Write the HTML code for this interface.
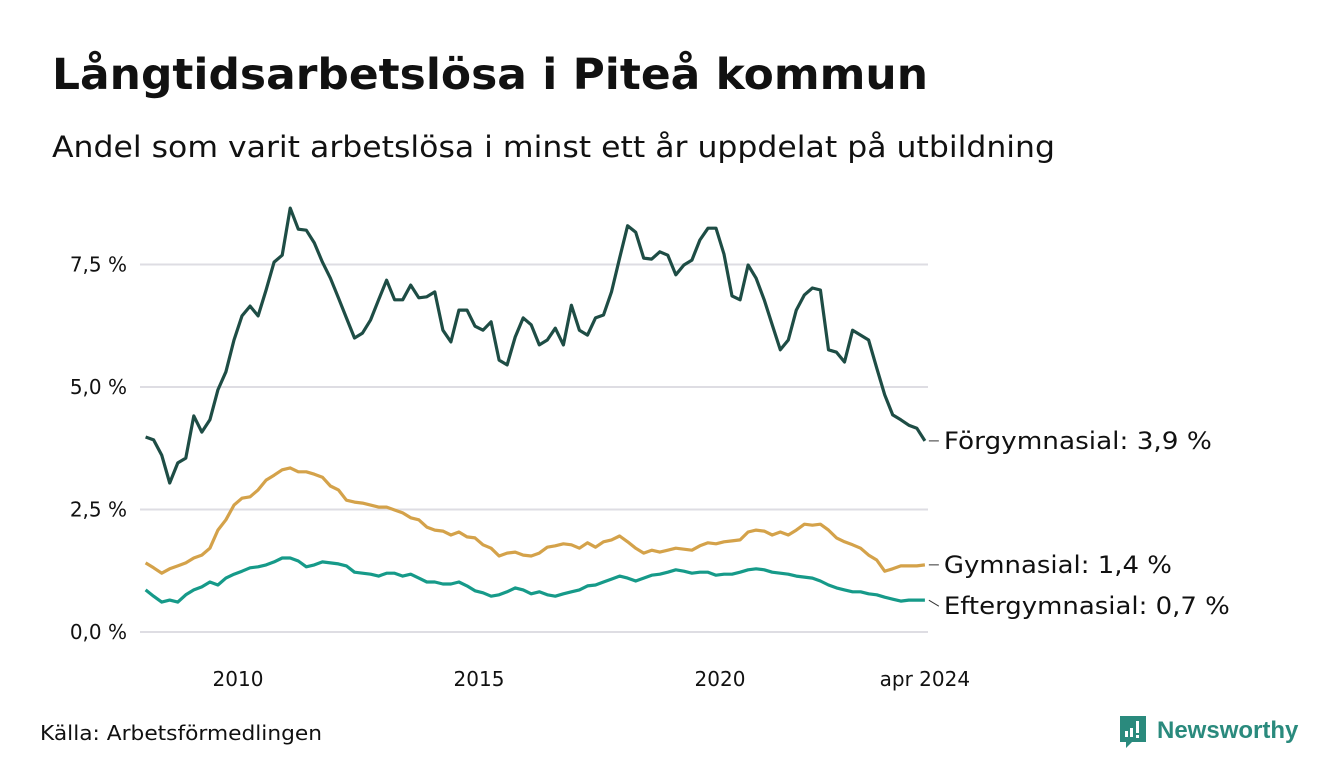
<!DOCTYPE html>
<html><head><meta charset="utf-8"><style>
body{margin:0;background:#fff;width:1340px;height:780px;overflow:hidden;font-family:"DejaVu Sans","Liberation Sans",sans-serif}
</style></head><body>
<svg width="1340" height="780" xmlns="http://www.w3.org/2000/svg" font-family="DejaVu Sans, Liberation Sans, sans-serif">
<text x="52" y="89" font-size="43" font-weight="bold" fill="#111" textLength="876" lengthAdjust="spacingAndGlyphs">Långtidsarbetslösa i Piteå kommun</text>
<text x="52" y="157" font-size="29" fill="#111" textLength="1003" lengthAdjust="spacingAndGlyphs">Andel som varit arbetslösa i minst ett år uppdelat på utbildning</text>
<g id="grid"></g><g id="lines"></g><g id="labels"></g>
<text x="40" y="740" font-size="20" fill="#111" textLength="282" lengthAdjust="spacingAndGlyphs">Källa: Arbetsförmedlingen</text>
<g>
<path d="M1120 716h26v26h-14l-6 6v-6h-6z" fill="#2a8a7d"/>
<rect x="1125" y="731" width="3" height="6" fill="#fff"/><rect x="1130" y="728" width="3" height="9" fill="#fff"/><rect x="1136" y="721" width="3" height="12" fill="#fff"/><rect x="1136" y="735" width="3" height="3" fill="#fff"/>
<text x="1157" y="738" font-size="24" font-weight="bold" fill="#2a8a7d" font-family="Liberation Sans, sans-serif">Newsworthy</text>
</g>
</svg>
<script>
const startMonth=1, stepMonths=2; // months since Jan 2008
const forgym=[3.98,3.92,3.61,3.04,3.45,3.55,4.41,4.08,4.33,4.94,5.31,5.96,6.45,6.65,6.45,6.98,7.55,7.69,8.65,8.22,8.20,7.94,7.55,7.22,6.82,6.41,6.00,6.10,6.37,6.78,7.18,6.78,6.78,7.08,6.82,6.84,6.94,6.16,5.92,6.57,6.57,6.24,6.16,6.33,5.55,5.45,6.02,6.41,6.27,5.86,5.96,6.20,5.86,6.67,6.16,6.06,6.41,6.47,6.94,7.63,8.29,8.16,7.63,7.61,7.76,7.69,7.29,7.49,7.59,8.00,8.24,8.24,7.71,6.86,6.78,7.49,7.22,6.78,6.27,5.76,5.96,6.57,6.88,7.02,6.98,5.76,5.71,5.51,6.16,6.06,5.96,5.39,4.84,4.43,4.33,4.22,4.16,3.90];
const gym=[1.41,1.31,1.20,1.29,1.35,1.41,1.51,1.57,1.71,2.08,2.29,2.59,2.73,2.76,2.90,3.10,3.20,3.31,3.35,3.27,3.27,3.22,3.16,2.98,2.90,2.69,2.65,2.63,2.59,2.55,2.55,2.49,2.43,2.33,2.29,2.14,2.08,2.06,1.98,2.04,1.94,1.92,1.78,1.71,1.55,1.61,1.63,1.57,1.55,1.61,1.73,1.76,1.80,1.78,1.71,1.82,1.73,1.84,1.88,1.96,1.84,1.71,1.61,1.67,1.63,1.67,1.71,1.69,1.67,1.76,1.82,1.80,1.84,1.86,1.88,2.04,2.08,2.06,1.98,2.04,1.98,2.08,2.20,2.18,2.20,2.08,1.92,1.84,1.78,1.71,1.57,1.47,1.24,1.29,1.35,1.35,1.35,1.37];
const eftergym=[0.86,0.73,0.61,0.65,0.61,0.76,0.86,0.92,1.02,0.96,1.10,1.18,1.24,1.31,1.33,1.37,1.43,1.51,1.51,1.45,1.33,1.37,1.43,1.41,1.39,1.35,1.22,1.20,1.18,1.14,1.20,1.20,1.14,1.18,1.10,1.02,1.02,0.98,0.98,1.02,0.94,0.84,0.80,0.73,0.76,0.82,0.90,0.86,0.78,0.82,0.76,0.73,0.78,0.82,0.86,0.94,0.96,1.02,1.08,1.14,1.10,1.04,1.10,1.16,1.18,1.22,1.27,1.24,1.20,1.22,1.22,1.16,1.18,1.18,1.22,1.27,1.29,1.27,1.22,1.20,1.18,1.14,1.12,1.10,1.04,0.96,0.90,0.86,0.82,0.82,0.78,0.76,0.71,0.67,0.63,0.65,0.65,0.65];
const yTicks=[0,2.5,5,7.5];
const yTickLabels=["0,0 %","2,5 %","5,0 %","7,5 %"];
const xTicks=[2010,2015,2020,2024.25];
const xTickLabels=["2010","2015","2020","apr 2024"];
const seriesNames=["Förgymnasial: 3,9 %","Gymnasial: 1,4 %","Eftergymnasial: 0,7 %"];
const labelWidths=[268,228,286];
const labelOffsets=[0,0,6];
const NS="http://www.w3.org/2000/svg";
const yS=v=>632-v*49;
const xS=yr=>238+(yr-2010)*48.2;
const mYear=i=>2008+(startMonth+i*stepMonths)/12;
const grid=document.getElementById('grid'),lines=document.getElementById('lines'),labels=document.getElementById('labels');
yTicks.forEach((t,i)=>{
 const l=document.createElementNS(NS,'line');
 l.setAttribute('x1',140);l.setAttribute('x2',928);l.setAttribute('y1',yS(t));l.setAttribute('y2',yS(t));
 l.setAttribute('stroke','#dedde3');l.setAttribute('stroke-width','2');
 
 
 grid.appendChild(l);
 const tx=document.createElementNS(NS,'text');
 tx.setAttribute('x',127);tx.setAttribute('y',yS(t)+7);tx.setAttribute('text-anchor','end');tx.setAttribute('font-size','20');tx.setAttribute('fill','#111');
 tx.textContent=yTickLabels[i];
 
 
 grid.appendChild(tx);
});
xTicks.forEach((t,i)=>{
 const tx=document.createElementNS(NS,'text');
 tx.setAttribute('x',xS(t));tx.setAttribute('y',686);tx.setAttribute('text-anchor','middle');tx.setAttribute('font-size','20');tx.setAttribute('fill','#111');
 tx.textContent=xTickLabels[i];
 
 
 grid.appendChild(tx);
});
const series=[[forgym,'#1e4d45'],[gym,'#d4a24a'],[eftergym,'#169a89']];
series.forEach((s,k)=>{
 const d=s[0].map((v,i)=>(i?'L':'M')+xS(mYear(i)).toFixed(1)+' '+yS(v).toFixed(1)).join(' ');
 const p=document.createElementNS(NS,'path');
 p.setAttribute('d',d);p.setAttribute('fill','none');p.setAttribute('stroke',s[1]);p.setAttribute('stroke-width','3.2');p.setAttribute('stroke-linejoin','round');
 
 
 lines.appendChild(p);
 const last=s[0][s[0].length-1], lx=xS(mYear(s[0].length-1)), ly=yS(last), ty=ly+labelOffsets[k];
 const c=document.createElementNS(NS,'line');
 c.setAttribute('x1',lx+4);c.setAttribute('x2',lx+14);c.setAttribute('y1',ly);c.setAttribute('y2',ty);c.setAttribute('stroke','#333');c.setAttribute('stroke-width','1');
 
 
 labels.appendChild(c);
 const t=document.createElementNS(NS,'text');
 t.setAttribute('x',lx+19);t.setAttribute('y',ty+8);t.setAttribute('font-size','24');t.setAttribute('fill','#111');
 t.setAttribute('textLength',labelWidths[k]);t.setAttribute('lengthAdjust','spacingAndGlyphs');
 t.textContent=seriesNames[k];
 
 
 labels.appendChild(t);
});
</script>
</body></html>
